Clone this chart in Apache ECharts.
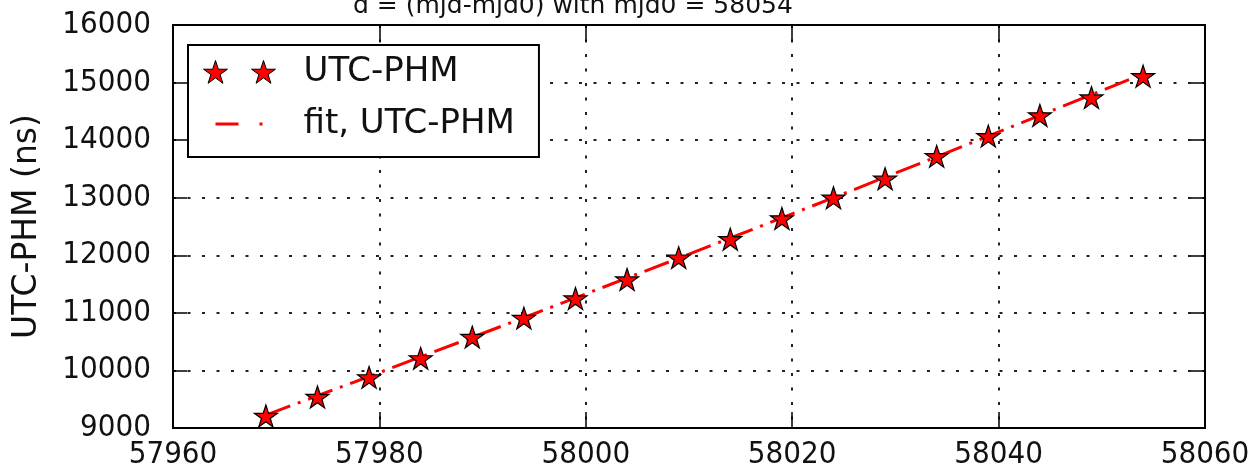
<!DOCTYPE html>
<html>
<head>
<meta charset="utf-8">
<title>UTC-PHM</title>
<script src="https://cdn.jsdelivr.net/npm/echarts@6/dist/echarts.min.js"></script>
<style>
  html, body { margin: 0; padding: 0; background: #fff; }
  #chart { width: 1253px; height: 470px; }
</style>
</head>
<body>
<div id="chart"></div>
<script>
// Modified Julian dates of the measurements
const mjd = [57969, 57974, 57979, 57984, 57989, 57994, 57999, 58004, 58009,
             58014, 58019, 58024, 58029, 58034, 58039, 58044, 58049, 58054];
// Measured UTC-PHM offsets (ns)
const utcPhm = [9210, 9540, 9880, 10210, 10580, 10910, 11250, 11580, 11960,
                12280, 12640, 13000, 13330, 13720, 14070, 14430, 14740, 15110];
// Fitted UTC-PHM curve at the same dates (ns)
const fitUtcPhm = [9225, 9560, 9895, 10235, 10575, 10915, 11260, 11605, 11950,
                   12300, 12650, 13000, 13355, 13710, 14070, 14430, 14790, 15150];

const titleText = 'd = (mjd-mjd0) with mjd0 = 58054';
const yName = 'UTC-PHM (ns)';
const dataName = 'UTC-PHM';
const fitName = 'fit, UTC-PHM';

// five-pointed star marker (matplotlib-like '*')
const starPath = 'path://M50 0 L61.23 34.55 L97.55 34.55 L68.16 55.9 L79.39 90.45 L50 69.1 ' +
                 'L20.61 90.45 L31.84 55.9 L2.45 34.55 L38.77 34.55 Z';
// legend icons drawn in a 95x23 box: two stars, and a dash-dot sample
const legendStars = 'path://M0 0 M95 23 ' +
  'M12 0 L14.83 8.71 L23.98 8.71 L16.57 14.09 L19.41 22.79 L12 17.41 L4.59 22.79 L7.43 14.09 L0.02 8.71 L9.17 8.71 Z ' +
  'M60 0 L62.83 8.71 L71.98 8.71 L64.57 14.09 L67.41 22.79 L60 17.41 L52.59 22.79 L55.43 14.09 L48.02 8.71 L57.17 8.71 Z';
const legendDashDot = 'path://M0 0 M95 23 M12 10 L35 10 L35 13 L12 13 Z M56 10 L59 10 L59 13 L56 13 Z';

const tickFont = 'DejaVu Sans Condensed';
const plain = v => String(v);

const chart = echarts.init(document.getElementById('chart'), null, { renderer: 'canvas' });

const frameAxis = {
  type: 'value',
  axisLine: { show: true, onZero: false, lineStyle: { color: '#000', width: 2 } },
  axisTick: { show: true, inside: true, lineStyle: { color: '#000', width: 1.5 } },
  axisLabel: { show: false },
  splitLine: { show: false }
};

const option = {
  animation: false,
  backgroundColor: '#fff',
  title: {
    text: titleText,
    left: 353,
    top: -6,
    padding: 0,
    textStyle: { fontFamily: 'DejaVu Sans', fontSize: 25, fontWeight: 'normal', color: '#111' }
  },
  grid: {
    left: 173, right: 48, top: 25, bottom: 37,
    show: true, borderColor: '#000', borderWidth: 2
  },
  legend: {
    orient: 'vertical',
    left: 188,
    top: 45,
    padding: [10, 24, 16, 15],
    itemGap: 18,
    itemWidth: 95,
    itemHeight: 23,
    selectedMode: false,
    borderColor: '#000',
    borderWidth: 2,
    backgroundColor: '#fff',
    textStyle: { fontFamily: 'DejaVu Sans', fontSize: 34, color: '#111', padding: 0 },
    data: [
      { name: dataName, icon: legendStars,
        itemStyle: { color: '#ff0000', borderColor: '#000', borderWidth: 1 } },
      { name: fitName, icon: legendDashDot,
        itemStyle: { color: '#ff0000', borderWidth: 0 } }
    ]
  },
  xAxis: [
    {
      type: 'value', position: 'bottom',
      min: 57960, max: 58060, interval: 20,
      axisLine: { show: true, onZero: false, lineStyle: { color: '#000', width: 2 } },
      axisTick: { show: true, inside: true, length: 16, lineStyle: { color: '#000', width: 1.5 } },
      axisLabel: { margin: 11, fontFamily: tickFont, fontSize: 31, color: '#111',
                   showMinLabel: true, showMaxLabel: true, formatter: plain },
      splitLine: { show: true, lineStyle: { type: [3, 11.5], color: '#222', width: 2 } }
    },
    Object.assign({}, frameAxis, {
      position: 'top', min: 57960, max: 58060, interval: 20,
      axisTick: { show: true, inside: true, length: 16, lineStyle: { color: '#000', width: 1.5 } }
    })
  ],
  yAxis: [
    {
      type: 'value', position: 'left',
      min: 9000, max: 16000, interval: 1000,
      name: yName, nameLocation: 'middle', nameGap: 129,
      nameTextStyle: { fontFamily: 'DejaVu Sans', fontSize: 33, color: '#111' },
      axisLine: { show: true, onZero: false, lineStyle: { color: '#000', width: 2 } },
      axisTick: { show: true, inside: true, length: 14, lineStyle: { color: '#000', width: 1.5 } },
      axisLabel: { margin: 22, fontFamily: tickFont, fontSize: 31, color: '#111',
                   showMinLabel: true, showMaxLabel: true, formatter: plain },
      splitLine: { show: true, lineStyle: { type: [3, 11.5], color: '#222', width: 2 } }
    },
    Object.assign({}, frameAxis, {
      position: 'right', min: 9000, max: 16000, interval: 1000,
      axisTick: { show: true, inside: true, length: 14, lineStyle: { color: '#000', width: 1.5 } }
    })
  ],
  series: [
    {
      name: fitName,
      type: 'line',
      xAxisIndex: 0, yAxisIndex: 0,
      data: mjd.map((d, i) => [d, fitUtcPhm[i]]),
      showSymbol: false,
      symbol: 'none',
      itemStyle: { color: '#ff0000' },
      lineStyle: { color: '#ff0000', width: 3, type: [26, 8, 3, 8] },
      z: 2
    },
    {
      name: dataName,
      type: 'scatter',
      xAxisIndex: 0, yAxisIndex: 0,
      data: mjd.map((d, i) => [d, utcPhm[i]]),
      symbol: starPath,
      symbolKeepAspect: true,
      symbolSize: 23,
      itemStyle: { color: '#ff0000', borderColor: '#000', borderWidth: 1.2, opacity: 1 },
      z: 3
    }
  ]
};

chart.setOption(option);
</script>
</body>
</html>
